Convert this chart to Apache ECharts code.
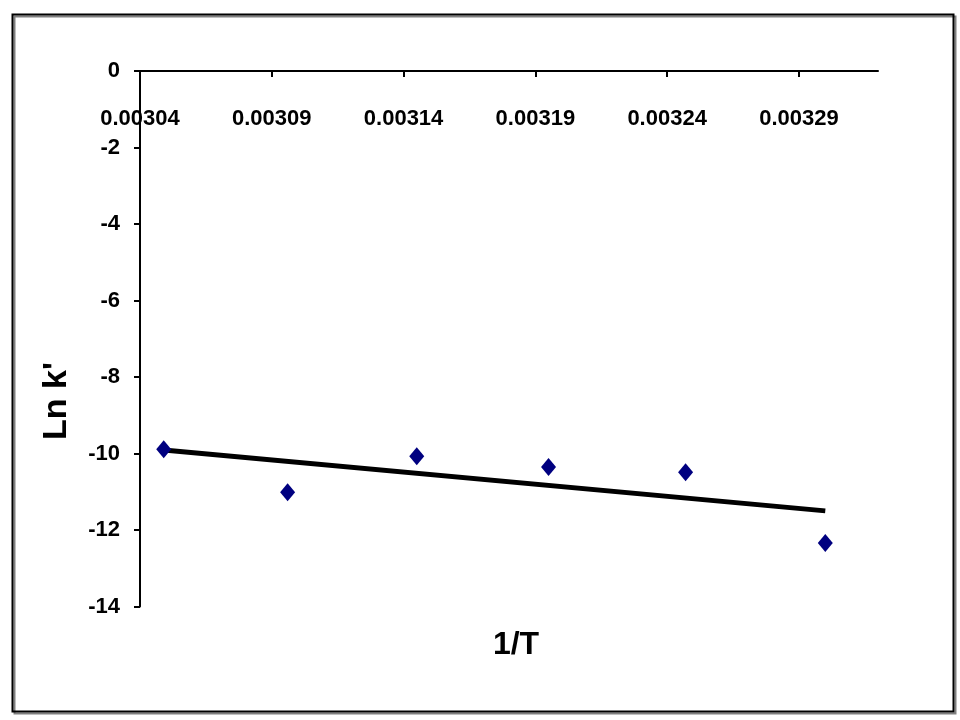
<!DOCTYPE html>
<html>
<head>
<meta charset="utf-8">
<script src="https://cdn.jsdelivr.net/npm/echarts@6/dist/echarts.min.js"></script>
<style>html,body{margin:0;padding:0;background:#fff;}#c{width:960px;height:720px;}</style>
</head>
<body>
<div id="c"></div>
<script>
// 1/T values (K^-1) and Ln k' values
const invT = [0.003049, 0.003096, 0.003145, 0.003195, 0.003247, 0.003300];
const lnK = [-9.89, -11.01, -10.07, -10.35, -10.49, -12.34];
// Linear trendline end points
const trendX = [0.003049, 0.003300];
const trendY = [-9.91, -11.50];
// Axis tick labels
const xTicks = [0.00304, 0.00309, 0.00314, 0.00319, 0.00324, 0.00329];
const yTicks = [0, -2, -4, -6, -8, -10, -12, -14];

const FONT = "'Liberation Sans Narrow','Arial Narrow','Liberation Sans',Arial,sans-serif";
const chart = echarts.init(document.getElementById('c'), null, {renderer: 'canvas'});
chart.setOption({
  backgroundColor: '#ffffff',
  animation: false,
  grid: {left: 140, top: 71, right: 82, bottom: 113.5, containLabel: false},
  xAxis: {
    type: 'value',
    min: 0.00304,
    max: 0.00332,
    position: 'top',
    axisLine: {onZero: false, lineStyle: {color: '#000', width: 2}},
    axisTick: {show: true, length: 6, inside: true, customValues: xTicks, lineStyle: {color: '#000', width: 2}},
    axisLabel: {
      customValues: xTicks, inside: true, margin: 37, color: '#000',
      fontFamily: FONT, fontSize: 22, fontWeight: 'bold',
      formatter: v => v.toFixed(5)
    },
    splitLine: {show: false}
  },
  yAxis: {
    type: 'value',
    min: -14,
    max: 0,
    interval: 2,
    axisLine: {show: true, onZero: false, lineStyle: {color: '#000', width: 2}},
    axisTick: {show: true, length: 6, lineStyle: {color: '#000', width: 2}},
    axisLabel: {
      margin: 20, color: '#000', fontFamily: FONT, fontSize: 22, fontWeight: 'bold',
      customValues: yTicks,
      formatter: v => String(v)
    },
    splitLine: {show: false}
  },
  series: [
    {
      type: 'line',
      data: trendX.map((x, i) => [x, trendY[i]]),
      showSymbol: false,
      lineStyle: {color: '#000', width: 5},
      z: 2
    },
    {
      type: 'scatter',
      data: invT.map((x, i) => [x, lnK[i]]),
      symbol: 'diamond',
      symbolSize: [15, 18],
      itemStyle: {color: '#000080', opacity: 1},
      z: 3
    }
  ],
  graphic: [
    {
      type: 'rect', left: 10, top: 12, z: -10,
      shape: {width: 941, height: 697},
      style: {fill: 'none', stroke: '#000', lineWidth: 2, shadowColor: 'rgba(0,0,0,0.5)', shadowOffsetX: 2, shadowOffsetY: 2, shadowBlur: 0}
    },
    {
      type: 'text', x: 57, y: 401, rotation: Math.PI / 2,
      style: {text: "Ln k'", fill: '#000', font: "bold 34px 'Liberation Sans', Arial, sans-serif", align: 'center', verticalAlign: 'middle'}
    },
    {
      type: 'text', x: 516, y: 645,
      style: {text: '1/T', fill: '#000', font: "bold 32px 'Liberation Sans Narrow','Liberation Sans', Arial, sans-serif", align: 'center', verticalAlign: 'middle'}
    }
  ]
});
</script>
</body>
</html>
